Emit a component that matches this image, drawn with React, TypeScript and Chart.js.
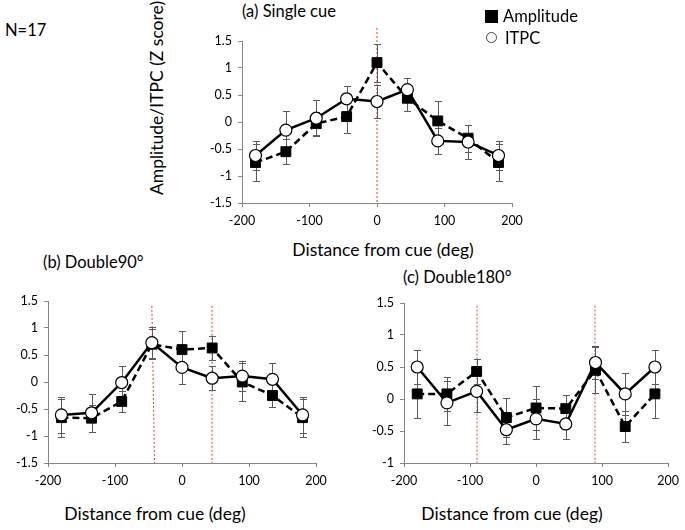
import React, { useEffect, useRef } from 'react';
import { Chart, registerables } from 'chart.js';

Chart.register(...registerables);

// ---------- data ----------
const ANGLES = [-180, -135, -90, -45, 0, 45, 90, 135, 180];
const X_TICK_MIN = -200;
const X_TICK_MAX = 200;

// (a) Single cue
const ampA = [-0.75, -0.55, -0.03, 0.1, 1.1, 0.44, 0.02, -0.3, -0.75];
const ampAErr = [0.35, 0.23, 0.22, 0.3, 0.35, 0.24, 0.36, 0.25, 0.35];
const itpcA = [-0.62, -0.15, 0.07, 0.43, 0.38, 0.6, -0.35, -0.37, -0.62];
const itpcAErr = [0.27, 0.35, 0.33, 0.23, 0.3, 0.22, 0.24, 0.32, 0.27];
const cueLinesA = [[0, 1.74, 0, -1.5]];

// (b) Double90°
const ampB = [-0.66, -0.67, -0.36, 0.7, 0.6, 0.63, 0.0, -0.25, -0.66];
const ampBErr = [0.35, 0.25, 0.2, 0.28, 0.35, 0.22, 0.35, 0.22, 0.35];
const itpcB = [-0.61, -0.57, -0.01, 0.73, 0.27, 0.07, 0.11, 0.05, -0.61];
const itpcBErr = [0.33, 0.35, 0.31, 0.29, 0.3, 0.22, 0.27, 0.3, 0.33];
const cueLinesB = [[-45, 1.41, -41, -1.5], [45, 1.41, 45, -1.5]];

// (c) Double180°
const ampC = [0.08, 0.08, 0.43, -0.29, -0.14, -0.15, 0.45, -0.43, 0.08];
const ampCErr = [0.37, 0.26, 0.2, 0.3, 0.35, 0.22, 0.36, 0.24, 0.37];
const itpcC = [0.5, -0.06, 0.12, -0.48, -0.31, -0.39, 0.57, 0.08, 0.5];
const itpcCErr = [0.26, 0.34, 0.32, 0.22, 0.31, 0.23, 0.26, 0.33, 0.26];
const cueLinesC = [[-90, 1.46, -90, -1], [90, 1.46, 90, -1]];

const FONT = 'Lato, "Open Sans", sans-serif';
const AXIS_COLOR = '#868686';

const snap = (v: number) => Math.round(v) + 0.5;

const overlayPlugin = {
  id: 'overlay',
  beforeDatasetsDraw(chart: any, _args: any, opts: any) {
    const { ctx } = chart;
    const xs = chart.scales.x;
    const ys = chart.scales.y;
    ctx.save();
    // cue reference lines (spread over two pixel columns, light red like the original)
    ctx.strokeStyle = '#ee3333';
    ctx.lineWidth = 1;
    ctx.setLineDash([2, 2]);
    (opts.lines || []).forEach((l: number[]) => {
      const x1 = xs.getPixelForValue(l[0]);
      const x2 = xs.getPixelForValue(l[2]);
      const vertical = l[0] === l[2];
      ctx.beginPath();
      ctx.moveTo(vertical ? Math.round(x1) : x1, ys.getPixelForValue(l[1]));
      ctx.lineTo(vertical ? Math.round(x2) : x2, ys.getPixelForValue(l[3]));
      ctx.stroke();
    });
    ctx.setLineDash([]);
    // error bars
    ctx.strokeStyle = '#5a5a5a';
    ctx.lineWidth = 1;
    chart.data.datasets.forEach((ds: any) => {
      const errs = ds.errors;
      if (!errs) return;
      ds.data.forEach((p: any, j: number) => {
        const px = snap(xs.getPixelForValue(p.x));
        const t = snap(ys.getPixelForValue(p.y + errs[j]));
        const b = snap(ys.getPixelForValue(p.y - errs[j]));
        ctx.beginPath();
        ctx.moveTo(px, t);
        ctx.lineTo(px, b);
        ctx.moveTo(px - 3.5, t);
        ctx.lineTo(px + 3.5, t);
        ctx.moveTo(px - 3.5, b);
        ctx.lineTo(px + 3.5, b);
        ctx.stroke();
      });
    });
    ctx.restore();
  },
};

type PanelProps = {
  left: number;
  top: number;
  width: number;
  height: number;
  yMin: number;
  yMax: number;
  amp: number[];
  ampErr: number[];
  itpc: number[];
  itpcErr: number[];
  lines: number[][];
  padTop: number;
  padRight: number;
};

function Panel(p: PanelProps) {
  const ref = useRef<HTMLCanvasElement | null>(null);
  useEffect(() => {
    if (!ref.current) return;
    const chart = new Chart(ref.current, {
      type: 'line',
      data: {
        datasets: [
          {
            label: 'ITPC',
            data: ANGLES.map((a, i) => ({ x: a, y: p.itpc[i] })),
            errors: p.itpcErr,
            borderColor: '#000',
            borderWidth: 2.5,
            pointStyle: 'circle',
            pointRadius: 6,
            pointBackgroundColor: '#fff',
            pointBorderColor: '#000',
            pointBorderWidth: 1.2,
            order: 0,
          } as any,
          {
            label: 'Amplitude',
            data: ANGLES.map((a, i) => ({ x: a, y: p.amp[i] })),
            errors: p.ampErr,
            borderColor: '#000',
            borderWidth: 2.5,
            borderDash: [7, 4],
            pointStyle: 'rect',
            pointRadius: 7,
            pointBackgroundColor: '#000',
            pointBorderColor: '#000',
            pointBorderWidth: 1,
            order: 1,
          } as any,
        ],
      },
      options: {
        responsive: false,
        animation: false,
        layout: { padding: { top: p.padTop, right: p.padRight, left: 0, bottom: 0 } },
        plugins: {
          legend: { display: false },
          tooltip: { enabled: false },
          overlay: { lines: p.lines },
        } as any,
        scales: {
          x: {
            type: 'linear',
            min: X_TICK_MIN,
            max: X_TICK_MAX,
            ticks: {
              stepSize: 100,
              callback: (v: any) => String(v),
              color: '#000',
              font: { family: FONT, size: 12.5 },
              padding: 6,
              maxRotation: 0,
              autoSkip: false,
            },
            grid: { drawOnChartArea: false, drawTicks: true, tickLength: 4, color: AXIS_COLOR },
            border: { color: AXIS_COLOR, width: 1 },
            afterFit: (s: any) => {
              s.height = 32;
            },
          },
          y: {
            type: 'linear',
            min: p.yMin,
            max: p.yMax,
            ticks: {
              stepSize: 0.5,
              callback: (v: any) => String(v),
              color: '#000',
              font: { family: FONT, size: 12.5 },
              padding: 6,
            },
            grid: { drawOnChartArea: false, drawTicks: true, tickLength: 4, color: AXIS_COLOR },
            border: { color: AXIS_COLOR, width: 1 },
            afterFit: (s: any) => {
              s.width = 42;
            },
          },
        },
      },
      plugins: [overlayPlugin],
    } as any);
    return () => chart.destroy();
  }, []);
  return (
    <canvas
      ref={ref}
      width={p.width}
      height={p.height}
      style={{ position: 'absolute', left: p.left, top: p.top, width: p.width, height: p.height }}
    />
  );
}

const txt = (left: number, cy: number, s: string, extra: any = {}) => (
  <div
    style={{
      position: 'absolute',
      left,
      top: cy - 10,
      height: 20,
      lineHeight: '20px',
      fontSize: 16.5,
      fontFamily: FONT,
      color: '#000',
      whiteSpace: 'nowrap',
      ...extra,
    }}
  >
    {s}
  </div>
);

const ctxt = (cx: number, cy: number, s: string, extra: any = {}) =>
  txt(cx - 120, cy, s, { width: 240, textAlign: 'center', ...extra });

export default function App() {
  return (
    <div
      style={{
        position: 'absolute',
        left: 0,
        top: 0,
        width: 685,
        height: 530,
        background: '#fff',
        overflow: 'hidden',
      }}
    >
      <Panel
        left={200}
        top={25}
        width={330}
        height={210}
        yMin={-1.5}
        yMax={1.5}
        amp={ampA}
        ampErr={ampAErr}
        itpc={itpcA}
        itpcErr={itpcAErr}
        lines={cueLinesA}
        padTop={16}
        padRight={18}
      />
      <Panel
        left={6}
        top={285}
        width={328}
        height={210}
        yMin={-1.5}
        yMax={1.5}
        amp={ampB}
        ampErr={ampBErr}
        itpc={itpcB}
        itpcErr={itpcBErr}
        lines={cueLinesB}
        padTop={16}
        padRight={18}
      />
      <Panel
        left={362}
        top={287}
        width={323}
        height={208}
        yMin={-1}
        yMax={1.5}
        amp={ampC}
        ampErr={ampCErr}
        itpc={itpcC}
        itpcErr={itpcCErr}
        lines={cueLinesC}
        padTop={16}
        padRight={12}
      />
      {txt(5, 30, 'N=17')}
      {txt(242, 11, '(a) Single cue')}
      <div
        style={{ position: 'absolute', left: 485, top: 10, width: 13, height: 13, background: '#000' }}
      />
      {txt(503, 16, 'Amplitude')}
      <div
        style={{
          position: 'absolute',
          left: 486,
          top: 32,
          width: 11,
          height: 11,
          borderRadius: '50%',
          border: '1px solid #444',
          boxSizing: 'border-box',
          background: '#fff',
        }}
      />
      {txt(505, 38, 'ITPC')}
      {ctxt(157, 98, 'Amplitude/ITPC (Z score)', { transform: 'rotate(-90deg)', fontSize: 17.5 })}
      {ctxt(383, 250, 'Distance from cue (deg)', { fontSize: 17.5 })}
      {txt(43, 262, '(b) Double90°')}
      {txt(403, 277, '(c) Double180°')}
      {ctxt(155, 514, 'Distance from cue (deg)', { fontSize: 17.5 })}
      {ctxt(512, 514, 'Distance from cue (deg)', { fontSize: 17.5 })}
    </div>
  );
}
